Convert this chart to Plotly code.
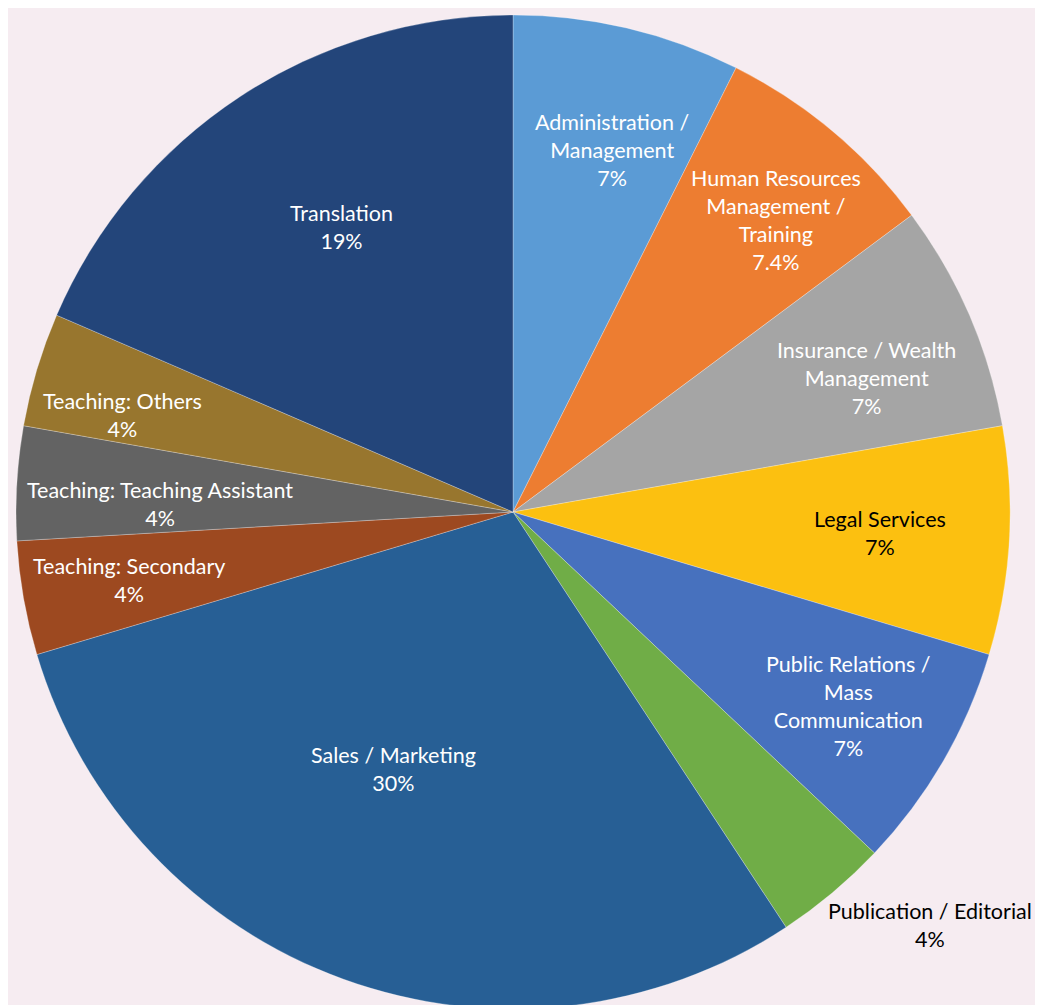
import math
import plotly.graph_objects as go

# ---- data ----
categories = [
    "Administration / Management",
    "Human Resources Management / Training",
    "Insurance / Wealth Management",
    "Legal Services",
    "Public Relations / Mass Communication",
    "Publication / Editorial",
    "Sales / Marketing",
    "Teaching: Secondary",
    "Teaching: Teaching Assistant",
    "Teaching: Others",
    "Translation",
]
counts = [2, 2, 2, 2, 2, 1, 8, 1, 1, 1, 5]
pct_labels = ["7%", "7.4%", "7%", "7%", "7%", "4%", "30%", "4%", "4%", "4%", "19%"]
label_lines = [
    "Administration /<br>Management",
    "Human Resources<br>Management /<br>Training",
    "Insurance / Wealth<br>Management",
    "Legal Services",
    "Public Relations /<br>Mass<br>Communication",
    "Publication / Editorial",
    "Sales / Marketing",
    "Teaching: Secondary",
    "Teaching: Teaching Assistant",
    "Teaching: Others",
    "Translation",
]

# ---- styles ----
colors = ["#5B9BD5", "#ED7D31", "#A5A5A5", "#FCC010", "#4771BE", "#70AD47",
          "#275F95", "#9D4920", "#636363", "#98762E", "#23457A"]
text_colors = ["white", "white", "white", "black", "white", "black",
               "white", "white", "white", "white", "white"]
label_radius = [0.755, 0.79, 0.76, 0.74, 0.78, 1.18, 0.57, 0.785, 0.71, 0.81, 0.67]
label_angle_offset = [2, 2, 2.6, 0, 0, -5.3, 5, 0, -2, -2.7, 2.3]

W, H = 1043, 1005
PAGE_MARGIN = 8          # browser body margin offset
CX, CY, R = 513 - PAGE_MARGIN, 512 - PAGE_MARGIN, 497   # pixel centre/radius in figure
dom_x = [(CX - R) / W, (CX + R) / W]
dom_y = [(H - CY - R) / H, (H - CY + R) / H]

fig = go.Figure(go.Pie(
    labels=categories,
    values=counts,
    sort=False,
    direction="clockwise",
    rotation=0,
    marker=dict(colors=colors, line=dict(width=0.6, color="rgba(255,255,255,0.45)")),
    textinfo="none",
    hoverinfo="label+percent",
    domain=dict(x=dom_x, y=dom_y),
    showlegend=False,
))

total = sum(counts)
cum = 0
for i, v in enumerate(counts):
    mid = (cum + v / 2) / total * 360 + label_angle_offset[i]
    cum += v
    r = R * label_radius[i]
    px = CX + r * math.sin(math.radians(mid))
    py = (H - CY) + r * math.cos(math.radians(mid))
    fig.add_annotation(
        x=px / W, y=py / H, xref="paper", yref="paper",
        xanchor="center", yanchor="middle",
        text=f"{label_lines[i]}<br>{pct_labels[i]}",
        showarrow=False, align="center",
        font=dict(family="Lato, Open Sans, sans-serif", size=21.5, color=text_colors[i]),
    )

fig.update_layout(
    width=W, height=H,
    margin=dict(l=0, r=0, t=0, b=0),
    paper_bgcolor="#f6ecf1",
    plot_bgcolor="#f6ecf1",
)

fig.write_html("out.html")
